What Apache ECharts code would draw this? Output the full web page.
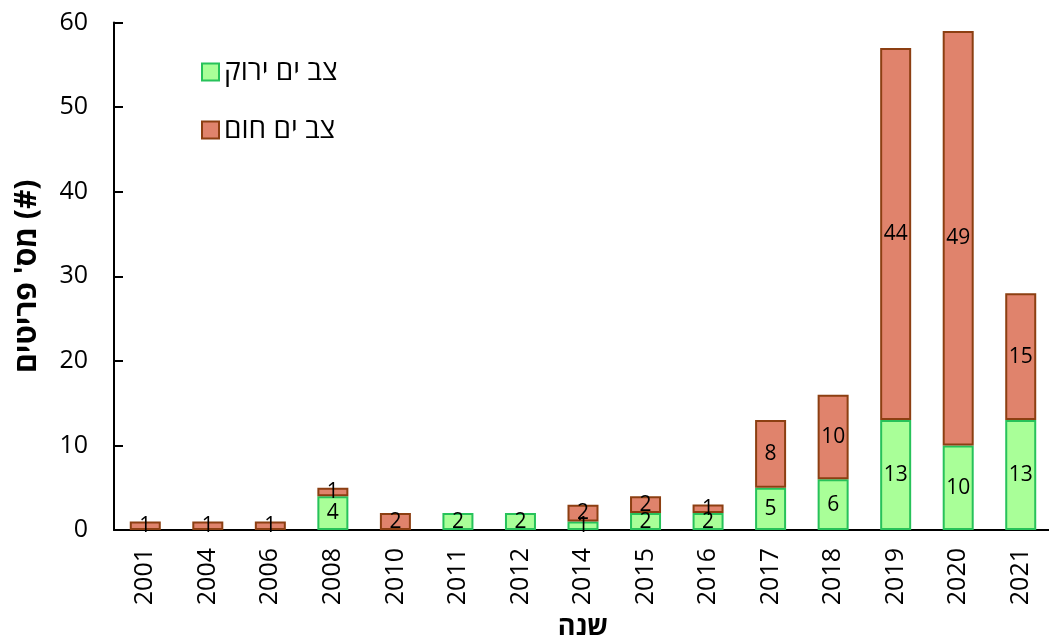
<!DOCTYPE html>
<html>
<head>
<meta charset="utf-8">
<script src="https://cdn.jsdelivr.net/npm/echarts@6/dist/echarts.min.js"></script>
<style>html,body{margin:0;padding:0;background:#fff}#c{width:1049px;height:638px}</style>
</head>
<body>
<div id="c"></div>
<script>
const years = ['2001','2004','2006','2008','2010','2011','2012','2014','2015','2016','2017','2018','2019','2020','2021'];
const greenTurtle = [0,0,0,4,0,2,2,1,2,2,5,6,13,10,13];
const brownTurtle = [1,1,1,1,2,0,0,2,2,1,8,10,44,49,15];
const yTicks = [0,10,20,30,40,50,60];
const seriesNames = ['צב ים ירוק', 'צב ים חום '];

const FONT = '"Open Sans", "Liberation Sans", "DejaVu Sans", sans-serif';
const toData = arr => arr.map(v => v === 0 ? null : v);
const chart = echarts.init(document.getElementById('c'));
chart.setOption({
  animation: false,
  textStyle: { fontFamily: FONT },
  grid: { left: 114, right: -3, top: 22.5, bottom: 108, outerBoundsMode: 'none', containLabel: false },
  legend: {
    orient: 'vertical', left: 196, top: 53, itemGap: 30,
    icon: 'rect', itemWidth: 17, itemHeight: 17,
    textStyle: { fontSize: 28, color: '#000', fontFamily: FONT },
    data: seriesNames
  },
  xAxis: {
    type: 'category', data: years,
    name: 'שנה', nameLocation: 'middle', nameGap: 84,
    nameTextStyle: { fontSize: 27, fontWeight: 'bold', color: '#000' },
    axisLine: { lineStyle: { color: '#000', width: 2 } },
    axisTick: { inside: true, length: 10, lineStyle: { color: '#000', width: 2 } },
    axisLabel: { rotate: 90, fontSize: 25, color: '#000', margin: 18 }
  },
  yAxis: {
    type: 'value', min: 0, max: 60, interval: 10,
    name: "מס' פריטים (#)", nameLocation: 'middle', nameGap: 72,
    nameTextStyle: { fontSize: 30, fontWeight: 'bold', color: '#000' },
    axisLine: { show: true, lineStyle: { color: '#000', width: 2 } },
    axisTick: { show: true, inside: true, length: 9, lineStyle: { color: '#000', width: 2 } },
    axisLabel: { fontSize: 25, color: '#000', margin: 26,
      formatter: v => yTicks.includes(v) ? String(v) : '' },
    splitLine: { show: false }
  },
  series: [
    {
      name: seriesNames[0], type: 'bar', stack: 't', barWidth: 31,
      data: toData(greenTurtle),
      itemStyle: { color: '#A9FF98', borderColor: '#27C25A', borderWidth: 2 },
      label: { show: true, position: 'inside', fontSize: 21, color: '#000' }
    },
    {
      name: seriesNames[1], type: 'bar', stack: 't', barWidth: 31,
      data: toData(brownTurtle),
      itemStyle: { color: '#E0836C', borderColor: '#8C3F12', borderWidth: 2 },
      label: { show: true, position: 'inside', fontSize: 21, color: '#000' }
    }
  ]
});
</script>
</body>
</html>
